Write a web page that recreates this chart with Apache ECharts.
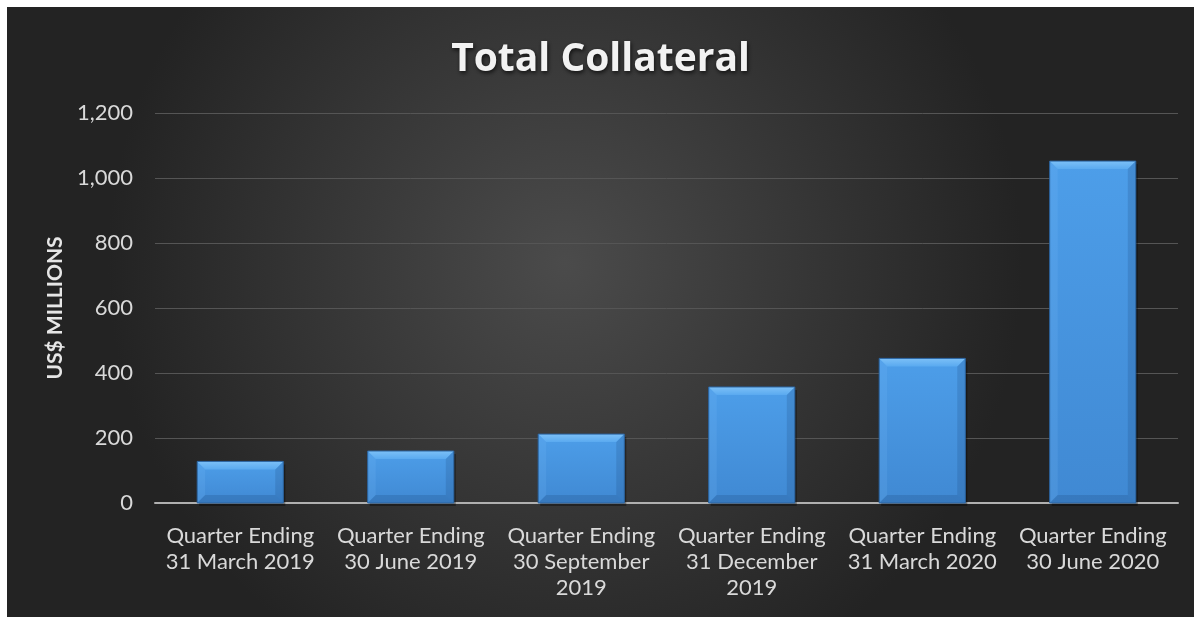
<!DOCTYPE html>
<html><head><meta charset="utf-8">
<script src="https://cdn.jsdelivr.net/npm/echarts@6/dist/echarts.min.js"></script>
<style>html,body{margin:0;padding:0;background:#fff}#c{position:absolute;left:7px;top:7px;width:1187px;height:610px}</style>
</head><body><div id="c"></div>
<script>
var categories = ['Quarter Ending\n31 March 2019','Quarter Ending\n30 June 2019','Quarter Ending\n30 September\n2019','Quarter Ending\n31 December\n2019','Quarter Ending\n31 March 2020','Quarter Ending\n30 June 2020'];
var values = [128, 160, 212, 357, 445, 1052];
var yTicks = [0, 200, 400, 600, 800, 1000, 1200];

var chart = echarts.init(document.getElementById('c'));
chart.setOption({
  backgroundColor: {type:'radial', x:0.47, y:0.42, r:0.75, colorStops:[{offset:0,color:'#4b4b4b'},{offset:1,color:'#232323'}]},
  title: {text:'Total Collateral', left:'center', top:28,
    textStyle:{color:'#f2f2f2', fontFamily:'Open Sans', fontWeight:'bold', fontSize:39, textShadowColor:'rgba(0,0,0,0.7)', textShadowBlur:4, textShadowOffsetX:1, textShadowOffsetY:2}},
  grid: {left:148, right:16, top:106, bottom:114},
  xAxis: {type:'category', data:categories,
    axisLine:{lineStyle:{color:'#b0b0b0', width:2}}, axisTick:{show:false},
    axisLabel:{color:'#d9d9d9', fontFamily:'Lato', fontSize:22, lineHeight:26, margin:20, interval:0}},
  yAxis: {type:'value', min:yTicks[0], max:yTicks[yTicks.length-1], interval:200,
    name:'US$ MILLIONS', nameLocation:'middle', nameGap:77, nameRotate:90,
    nameTextStyle:{color:'#e6e6e6', fontFamily:'Lato', fontWeight:'bold', fontSize:21},
    axisLine:{show:false}, axisTick:{show:false},
    axisLabel:{color:'#d9d9d9', fontFamily:'Lato', fontSize:22, margin:22, formatter:function(v){return v.toLocaleString('en-US');}},
    splitLine:{lineStyle:{color:'#555555', width:1}}},
  series: [{
    type:'custom', data:values.map(function(v,i){return [i,v];}),
    encode:{x:0,y:1}, z:3,
    renderItem:function(params, api){
      var top = api.coord([api.value(0), api.value(1)]);
      var base = api.coord([api.value(0), 0]);
      var w = api.size([1,0])[0]*0.505;
      var x0 = top[0]-w/2, x1 = top[0]+w/2, y0 = top[1], y1 = base[1];
      var b = 8;
      return {type:'group', children:[
        {type:'rect', shape:{x:x0+2,y:y0+3,width:w,height:y1-y0}, style:{fill:'rgba(0,0,0,0.35)'}},
        {type:'rect', shape:{x:x0,y:y0,width:w,height:y1-y0},
          style:{fill:{type:'linear',x:0,y:0,x2:0,y2:1,colorStops:[{offset:0,color:'#4d9ee9'},{offset:1,color:'#4089d3'}]}}},
        {type:'polygon', shape:{points:[[x0,y0],[x1,y0],[x1-b,y0+b],[x0+b,y0+b]]},
          style:{fill:{type:'linear',x:0,y:0,x2:0,y2:1,colorStops:[{offset:0,color:'#7cc0f7'},{offset:1,color:'#5aaaf0'}]}}},
        {type:'polygon', shape:{points:[[x0,y0],[x0+b,y0+b],[x0+b,y1-b],[x0,y1]]}, style:{fill:'rgba(120,190,250,0.18)'}},
        {type:'polygon', shape:{points:[[x1,y0],[x1-b,y0+b],[x1-b,y1-b],[x1,y1]]}, style:{fill:'rgba(20,60,110,0.18)'}},
        {type:'polygon', shape:{points:[[x0,y1],[x0+b,y1-b],[x1-b,y1-b],[x1,y1]]}, style:{fill:'rgba(20,60,110,0.2)'}},
        {type:'rect', shape:{x:x0,y:y0,width:w,height:y1-y0}, style:{fill:'none', stroke:'#2c64a0', lineWidth:1}}
      ]};
    }
  }]
});
</script></body></html>
